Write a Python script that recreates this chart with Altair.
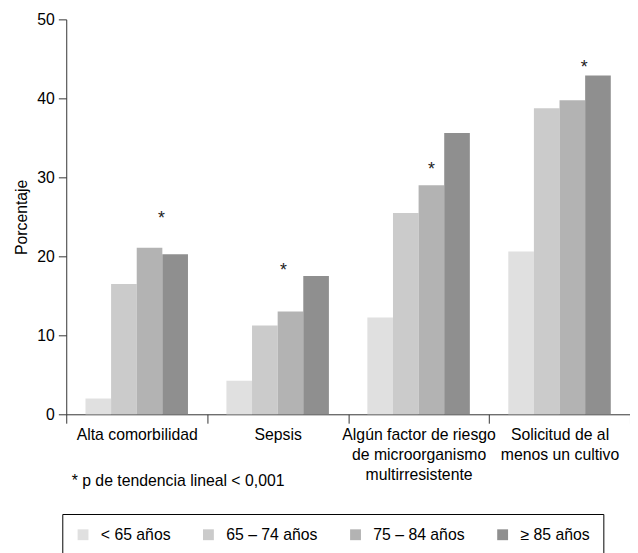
import altair as alt
import pandas as pd

categories = [
    "Alta comorbilidad",
    "Sepsis",
    "Algún factor de riesgo de microorganismo multirresistente",
    "Solicitud de al menos un cultivo",
]
category_lines = [
    ["Alta comorbilidad"],
    ["Sepsis"],
    ["Algún factor de riesgo", "de microorganismo", "multirresistente"],
    ["Solicitud de al", "menos un cultivo"],
]
age_groups = ["< 65 años", "65 – 74 años", "75 – 84 años", "≥ 85 años"]
colors = ["#e0e0e0", "#cbcbcb", "#b3b3b3", "#8f8f8f"]

values_lt65 = [2.0, 4.25, 12.25, 20.6]
values_65_74 = [16.5, 11.25, 25.5, 38.75]
values_75_84 = [21.1, 13.0, 29.0, 39.75]
values_ge85 = [20.25, 17.5, 35.6, 42.9]

# asterisk (p for linear trend < 0.001) positions
star_group = ["75 – 84 años", "75 – 84 años", "75 – 84 años", "≥ 85 años"]
star_value = [25.4, 18.75, 31.5, 44.5]
star_dx = [12, -7, 0, -14]

footnote = "* p de tendencia lineal < 0,001"

series = [values_lt65, values_65_74, values_75_84, values_ge85]
rows = []
for g, vals in zip(age_groups, series):
    for c, v in zip(categories, vals):
        rows.append({"categoria": c, "edad": g, "pct": v})
df = pd.DataFrame(rows)

stars = pd.DataFrame({"categoria": categories, "edad": star_group,
                      "pct": star_value, "s": ["*"] * 4})

label_expr = ""
for c, lines in zip(categories, category_lines):
    arr = "[" + ",".join("'" + l + "'" for l in lines) + "]"
    label_expr += f"datum.value == '{c}' ? {arr} : "
label_expr += "datum.value"

FONT = "Liberation Sans"
FS = 16

x_enc = alt.X(
    "categoria:N",
    sort=categories,
    scale=alt.Scale(paddingInner=0, paddingOuter=0),
    axis=alt.Axis(
        title=footnote,
        titleX=5,
        titleY=67,
        titleAlign="left",
        titleAnchor="start",
        titleBaseline="middle",
        titleFont=FONT,
        titleFontSize=FS,
        titleFontWeight="normal",
        titleColor="black",
        labelExpr=label_expr,
        labelAngle=0,
        labelFont=FONT,
        labelFontSize=FS,
        labelColor="black",
        labelLineHeight=20,
        labelPadding=4,
        labelBaseline="top",
        tickBand="extent",
        tickSize=9,
        tickColor="#333333",
        domainColor="#333333",
        labelLimit=300,
    ),
)
xoff = alt.XOffset("edad:N", sort=age_groups,
                   scale=alt.Scale(paddingInner=0, paddingOuter=0.75))
y_scale = alt.Scale(domain=[0, 50])

bars = alt.Chart(df).mark_bar().encode(
    x=x_enc,
    xOffset=xoff,
    y=alt.Y(
        "pct:Q",
        scale=y_scale,
        axis=alt.Axis(
            title="Porcentaje",
            values=[0, 10, 20, 30, 40, 50],
            grid=False,
            labelFont=FONT,
            labelFontSize=FS,
            labelColor="black",
            labelPadding=4,
            tickSize=8,
            tickColor="#333333",
            domainColor="#333333",
            titleFont=FONT,
            titleFontSize=FS,
            titleFontWeight="normal",
            titleColor="black",
            titlePadding=7,
        ),
    ),
    color=alt.Color(
        "edad:N",
        sort=age_groups,
        scale=alt.Scale(domain=age_groups, range=colors),
        legend=alt.Legend(
            title=None,
            orient="none",
            legendX=-4,
            legendY=501,
            direction="horizontal",
            columns=4,
            symbolType="square",
            symbolSize=121,
            symbolStrokeWidth=0,
            symbolOffset=0,
            labelOffset=10,
            labelFont=FONT,
            labelFontSize=FS,
            labelColor="black",
            columnPadding=30,
            strokeColor="black",
            padding=13,
            labelLimit=200,
        ),
    ),
)

layers = [bars]
for i in range(4):
    layers.append(
        alt.Chart(stars.iloc[[i]]).mark_text(
            font=FONT, fontSize=18, baseline="alphabetic", dy=10, dx=star_dx[i], color="#222222"
        ).encode(
            x=alt.X("categoria:N", sort=categories),
            xOffset=alt.XOffset("edad:N", sort=age_groups),
            y=alt.Y("pct:Q", scale=y_scale),
            text="s:N",
        )
    )

chart = alt.layer(*layers).properties(
    width=571,
    height=400,
    autosize=alt.AutoSizeParams(type="none"),
    padding={"left": 59, "top": 8, "right": 0, "bottom": 140},
).configure_view(stroke=None)

chart.save("out.html", embed_options={"renderer": "svg", "actions": False})
